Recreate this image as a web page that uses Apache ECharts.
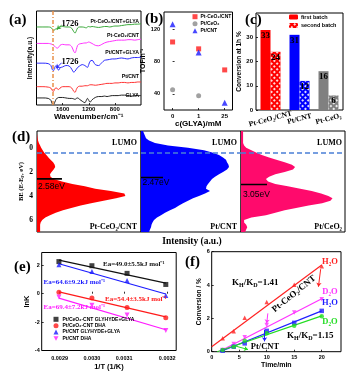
<!DOCTYPE html>
<html><head><meta charset="utf-8">
<script src="https://cdn.jsdelivr.net/npm/echarts@6/dist/echarts.min.js"></script>
<style>html,body{margin:0;padding:0;background:#fff}#c{width:349px;height:372px}</style>
</head><body><div id="c"></div>
<script>
// ---------- (a) FTIR ----------
const ftirWavenumber = [2000,1900,1820,1780,1760,1740,1720,1700,1680,1660,1640,1600,1550,1500,1460,1430,1410,1390,1370,1340,1300,1260,1240,1220,1200,1180,1150,1100,1050,1000,960,920,880,840,800,750,700,650,600,550,500,450,400];
const ftirPtCeO2CNTGLYA = [83,83,83,82.5,81,79,80,81.5,80.5,82,83,83.5,83,83,81.5,78,76.5,79,82,83,83,82.5,82,83,83.5,83,83.5,83,82.5,83,83.5,83.5,83,83.5,84,84,84.5,85,85.5,85.5,86,86,86.5];
const ftirPtCeO2CNT = [65.5,65.5,65.5,65,64.5,63.5,62.5,61,60.5,61.5,63.5,64.5,64,64,62,57,55.5,59,63.5,65,65.5,66,66,66.5,67,66.5,65.5,63.5,63,64.5,66,67,67.5,68,68.5,69,69,69,69.5,69.5,69,69.5,70];
const ftirPtCNTGLYA = [44.5,44.5,44,42,38,36.5,40,42,39,37,39.5,40.5,42,41.5,38,35,36,38,40,41.5,43,42,41,40,43,46.5,47.5,43,42,45,47.5,48,48.5,49,49,49.5,50,49.5,49,50,50.5,50.5,51];
const ftirPtCNT = [19.5,19.5,19,18,15.5,14.5,17,18.5,17,16.5,18,19.5,19.5,19.5,18,14.5,13.5,16.5,19,20,20,20.5,20.5,20.5,21,21.5,21.5,21,21.5,22,22.5,23,23,23,23.5,23.5,24,24,23.5,24,24,24.5,24.5];
const ftirGLYA = [7.5,7.5,7,5,1.5,0.5,3,6,7.5,8,8,8,7.5,7,7,6.5,6,7,7.5,6,4,2.5,4.5,7,5,3,5.5,8,9,9,9.5,9,9.5,10,10,10,10.5,10.5,10,9.5,10,10,10];
const ftirMarkWavenumber = 1750;

// ---------- (b) TOF ----------
const tofConc = [0, 1, 2];
const tofConcLabels = ['0', '1', '25'];
const tofPtCeO2CNT = [104, 95.5, 69.5];
const tofPtCeO2 = [45, 37.5];
const tofPtCNT = [126, 91, 29];

// ---------- (c) conversion ----------
const catalystNames = ['Pt-CeO₂/CNT', 'Pt/CNT', 'Pt-CeO₂'];
const firstBatch = [33, 31, 16];
const secondBatch = [24, 12, 6];

// ---------- (d) DOS ----------
const energyGrid = [-1.4,-1.2,-1.0,-0.8,-0.6,-0.4,-0.2,0,0.2,0.4,0.6,0.8,1.0,1.2,1.4,1.6,1.8,2.0,2.2,2.4,2.6,2.8,3.0,3.2,3.4,3.6,3.8,4.0,4.2,4.4,4.6,4.8,5.0,5.2,5.4,5.6,5.8,6.0,6.2,6.4,6.6,6.8,7.0];
const dosPtCeO2CNT = [0,0,0.003,0.006,0.01,0.018,0.03,0.04,0.055,0.07,0.09,0.11,0.13,0.155,0.17,0.175,0.16,0.14,0.125,0.13,0.16,0.24,0.34,0.46,0.56,0.71,0.84,0.85,0.76,0.64,0.52,0.42,0.33,0.25,0.18,0.125,0.08,0.05,0.035,0.03,0.03,0.03,0.03];
const dosPtCNT = [0.02,0.03,0.04,0.05,0.08,0.14,0.27,0.47,0.63,0.72,0.78,0.82,0.85,0.86,0.875,0.88,0.86,0.82,0.78,0.74,0.71,0.69,0.67,0.655,0.65,0.69,0.64,0.58,0.52,0.47,0.42,0.38,0.34,0.29,0.24,0.2,0.16,0.13,0.115,0.105,0.1,0.09,0.08];
const dosPtCeO2 = [0.02,0.02,0.02,0.02,0.02,0.02,0.03,0.05,0.1,0.15,0.2,0.27,0.34,0.42,0.49,0.52,0.5,0.42,0.33,0.27,0.24,0.26,0.33,0.45,0.57,0.68,0.77,0.84,0.88,0.86,0.78,0.65,0.53,0.42,0.33,0.24,0.1,0.03,0.03,0.05,0.06,0.05,0.04];
const gapLevels = [2.58, 2.47, 3.05];
const gapLabels = ['2.58eV', '2.47eV', '3.05eV'];
const lumoLevel = 0.42;

// ---------- (e) Arrhenius ----------
const invT = [0.002898, 0.00299, 0.003088, 0.003196];
const invTTicks = [0.0029, 0.00299, 0.00308, 0.0032];
const lnKCeO2Gly = [2.26, 1.97, 1.43, 0.65];
const lnKCeO2Dha = [0.11, -0.3, -0.97, -1.69];
const lnKCntGly = [2.03, 1.57, 0.92, -0.12];
const lnKCntDha = [-0.24, -0.81, -1.5, -2.6];
const fitCeO2Gly = [2.36, 0.74];
const fitCeO2Dha = [0.13, -1.63];
const fitCntGly = [2.11, -0.02];
const fitCntDha = [-0.31, -2.54];

// ---------- (f) KIE ----------
const timeMin = [2, 4, 6, 10, 15, 20];
const convCeO2H2O = [0.8, 1.23, 2.03, 2.98, 4.02, 5.13];
const convCeO2D2O = [0.1, 0.46, 0.86, 1.6, 2.35, 3.14];
const convCntH2O = [0.06, 0.3, 0.5, 1.25, 1.73, 2.45];
const convCntD2O = [0.1, 0.3, 0.66, 1.1, 1.55, 2.13];
const fitCeO2H2O = [[0, 0.3], [20, 5.2]];
const fitCeO2D2O = [[1.3, 0], [20, 3.18]];
const fitCntH2O = [[1.5, 0], [20, 2.45]];
const fitCntD2O = [[1.0, 0], [20, 2.15]];

const SANS = '"Liberation Sans", Arial, sans-serif';
const SERIF = '"Liberation Serif", "Times New Roman", serif';
const NARROW = '"Liberation Sans Narrow", "Liberation Sans", Arial, sans-serif';

const chart = echarts.init(document.getElementById('c'), null, {renderer: 'canvas'});

const box = {show: true, borderColor: '#000', borderWidth: 1, backgroundColor: 'transparent', containLabel: false, outerBoundsMode: 'none'};
const grids = [
  {left: 36.5, top: 11, width: 104.5, height: 94},
  {left: 164, top: 12, width: 68.5, height: 98},
  {left: 256, top: 13, width: 87, height: 97},
  {left: 37, top: 131, width: 104, height: 101},
  {left: 141, top: 131, width: 100, height: 101},
  {left: 241, top: 131, width: 104, height: 101},
  {left: 41.7, top: 252.5, width: 134.5, height: 98},
  {left: 211.7, top: 251.7, width: 129.3, height: 100}
].map(g => Object.assign({}, box, g));

const tick = {show: true, inside: true, length: 2, lineStyle: {color: '#000', width: 0.8}};
const lbl = (size, extra) => Object.assign({fontSize: size, fontWeight: 'bold', fontFamily: SANS, color: '#000'}, extra || {});
const nameStyle = (size, fam) => ({fontSize: size, fontWeight: 'bold', fontFamily: fam || SANS, color: '#000'});
const noLine = {show: false};
const noSplit = {show: false};

const xAxis = [
  {gridIndex: 0, type: 'value', min: 400, max: 2000, inverse: true, interval: 400,
   axisLine: noLine, splitLine: noSplit, axisTick: tick,
   axisLabel: lbl(6, {showMinLabel: false, showMaxLabel: false, margin: 1, formatter: v => String(v)}),
   name: 'Wavenumber/cm⁻¹', nameLocation: 'middle', nameGap: 7, nameTextStyle: nameStyle(8)},
  {gridIndex: 1, type: 'value', min: -0.33, max: 2.3,
   axisLine: noLine, splitLine: noSplit,
   axisTick: Object.assign({}, tick, {customValues: tofConc}),
   axisLabel: lbl(6, {customValues: tofConc, formatter: v => tofConcLabels[Math.round(v)], margin: 3}),
   name: 'c(GLYA)/mM', nameLocation: 'middle', nameGap: 9, nameTextStyle: nameStyle(8)},
  {gridIndex: 2, type: 'category', data: catalystNames,
   axisLine: noLine, splitLine: noSplit, axisTick: {show: false},
   axisLabel: {rotate: 15, align: 'center', margin: 9, fontSize: 7.5, fontWeight: 'bold', fontFamily: SERIF, color: '#000', interval: 0}},
  {gridIndex: 3, type: 'value', min: 0, max: 1, show: false},
  {gridIndex: 4, type: 'value', min: 0, max: 1, show: false},
  {gridIndex: 5, type: 'value', min: 0, max: 1, show: false},
  {gridIndex: 6, type: 'value', min: 0.00285, max: 0.003225,
   axisLine: noLine, splitLine: noSplit,
   axisTick: Object.assign({}, tick, {customValues: invTTicks}),
   axisLabel: lbl(5.5, {customValues: invTTicks, formatter: v => v.toFixed(4), margin: 5}),
   name: '1/T (1/K)', nameLocation: 'middle', nameGap: 12, nameTextStyle: nameStyle(7.5)},
  {gridIndex: 7, type: 'value', min: 0, max: 23.5, interval: 5,
   axisLine: noLine, splitLine: noSplit, axisTick: tick,
   axisLabel: lbl(5.5, {showMaxLabel: false, margin: 3}),
   name: 'Time/min', nameLocation: 'middle', nameGap: 10, nameTextStyle: nameStyle(7)}
];

const yAxis = [
  {gridIndex: 0, type: 'value', min: 0, max: 100, axisLine: noLine, splitLine: noSplit,
   axisTick: {show: false}, axisLabel: {show: false},
   name: 'Intensity(a.u.)', nameLocation: 'middle', nameGap: 3, nameTextStyle: nameStyle(6.5)},
  {gridIndex: 1, type: 'value', min: 20, max: 141, axisLine: noLine, splitLine: noSplit,
   axisTick: Object.assign({}, tick, {customValues: [40, 80, 120]}),
   axisLabel: lbl(5.5, {customValues: [40, 80, 120], margin: 4}),
   name: 'TOF/h⁻¹', nameLocation: 'middle', nameGap: 14, nameTextStyle: nameStyle(7)},
  {gridIndex: 2, type: 'value', min: 0, max: 40, interval: 10, axisLine: noLine, splitLine: noSplit,
   axisTick: tick, axisLabel: lbl(6, {showMaxLabel: false, margin: 3}),
   name: 'Conversion at 1h %', nameLocation: 'middle', nameGap: 12, nameTextStyle: nameStyle(6.5)},
  {gridIndex: 3, type: 'value', min: -1.4, max: 7, inverse: true, axisLine: noLine, splitLine: noSplit,
   axisTick: Object.assign({}, tick, {customValues: [0, 2, 4, 6]}),
   axisLabel: {customValues: [0, 2, 4, 6], fontSize: 7.5, fontWeight: 'bold', fontFamily: SERIF, color: '#000', margin: 4},
   name: 'BE (E-E{s|F}, eV)', nameLocation: 'middle', nameGap: 11,
   nameTextStyle: {fontSize: 6.5, fontFamily: SERIF, fontWeight: 'bold', color: '#000', rich: {s: {fontSize: 4.5, fontFamily: SERIF, fontWeight: 'bold', padding: [3, 0, 0, 0]}}}},
  {gridIndex: 4, type: 'value', min: -1.4, max: 7, inverse: true, show: false},
  {gridIndex: 5, type: 'value', min: -1.4, max: 7, inverse: true, show: false},
  {gridIndex: 6, type: 'value', min: -4, max: 2.9, interval: 2, axisLine: noLine, splitLine: noSplit,
   axisTick: tick, axisLabel: lbl(5.5, {showMaxLabel: false, margin: 2}),
   name: 'lnK', nameLocation: 'middle', nameGap: 8, nameTextStyle: nameStyle(7.5)},
  {gridIndex: 7, type: 'value', min: 0, max: 6, interval: 2, axisLine: noLine, splitLine: noSplit,
   axisTick: tick, axisLabel: lbl(5.5, {margin: 2}),
   name: 'Conversion / %', nameLocation: 'middle', nameGap: 7, nameTextStyle: nameStyle(6.5)}
];

const series = [];
const zip = (xs, ys) => ys.map((y, i) => [xs[i], y]);
const arrowML = (pairs, color) => ({silent: true, symbol: ['none', 'arrow'], symbolSize: 4, label: {show: false},
  lineStyle: {color: color, width: 1, type: 'solid'}, data: pairs.map(p => [{coord: p[0]}, {coord: p[1]}])});

// (a)
const ftirSets = [
  ['a-green', ftirPtCeO2CNTGLYA, '#3aa83a'],
  ['a-mag', ftirPtCeO2CNT, '#ff33ff'],
  ['a-blue', ftirPtCNTGLYA, '#2b2bff'],
  ['a-red', ftirPtCNT, '#ff3333'],
  ['a-black', ftirGLYA, '#222222']
];
ftirSets.forEach(s => {
  series.push({name: s[0], type: 'line', xAxisIndex: 0, yAxisIndex: 0, data: zip(ftirWavenumber, s[1]),
    showSymbol: false, smooth: 0.35, lineStyle: {color: s[2], width: 1}, itemStyle: {color: s[2]}, z: 3});
});
series[4].markLine = {silent: true, symbol: 'none', label: {show: false},
  lineStyle: {color: '#e8904a', type: [4, 2, 1, 2], width: 1.5}, data: [{xAxis: ftirMarkWavenumber}]};
series[0].markLine = arrowML([[[1614, 85], [1690, 80.5]]], '#3aa83a');
series[2].markLine = arrowML([[[1614, 45], [1700, 39]]], '#2b2bff');

// (b)
series.push({name: 'Pt-CeO₂/CNT', type: 'scatter', xAxisIndex: 1, yAxisIndex: 1, data: zip(tofConc, tofPtCeO2CNT),
  symbol: 'rect', symbolSize: 5, itemStyle: {color: '#ff1a1a'}});
series.push({name: 'Pt/CeO₂', type: 'scatter', xAxisIndex: 1, yAxisIndex: 1, data: zip(tofConc, tofPtCeO2),
  symbol: 'circle', symbolSize: 5, itemStyle: {color: '#8a8a8a'}});
series.push({name: 'Pt/CNT', type: 'scatter', xAxisIndex: 1, yAxisIndex: 1, data: zip(tofConc, tofPtCNT),
  symbol: 'triangle', symbolSize: 6, itemStyle: {color: '#1a1aff'}});

// (c)
const batchColors = ['#ff0000', '#0000ff', '#808080'];
const hatch = {symbol: 'rect', symbolSize: 1, dashArrayX: [1.5, 1.5], dashArrayY: [1.5, 1.5], rotation: Math.PI / 4, color: 'rgba(255,255,255,0.85)'};
const barLabel = {show: true, position: 'insideTop', distance: 1, fontFamily: SERIF, fontWeight: 'bold', fontSize: 9, color: '#000'};
series.push({name: 'first batch', type: 'bar', xAxisIndex: 2, yAxisIndex: 2, barWidth: 10, barGap: '0%',
  itemStyle: {color: '#ff0000'}, label: barLabel,
  data: firstBatch.map((v, i) => ({value: v, itemStyle: {color: batchColors[i]}}))});
series.push({name: 'second batch', type: 'bar', xAxisIndex: 2, yAxisIndex: 2, barWidth: 10, barGap: '0%',
  itemStyle: {color: '#ff0000', decal: hatch}, label: barLabel,
  data: secondBatch.map((v, i) => ({value: v, itemStyle: {color: batchColors[i], decal: hatch}}))});

// (d)
function dosRender(vals, color) {
  return function (params, api) {
    if (params.dataIndex !== 0) return null;
    const pts = [api.coord([0, energyGrid[0]])];
    for (let i = 0; i < energyGrid.length; i++) pts.push(api.coord([vals[i], energyGrid[i]]));
    pts.push(api.coord([0, energyGrid[energyGrid.length - 1]]));
    return {type: 'polygon', shape: {points: pts}, style: {fill: color, stroke: null}};
  };
}
const dosSets = [[dosPtCeO2CNT, '#ff0000'], [dosPtCNT, '#0000ff'], [dosPtCeO2, '#ff0a6c']];
const levelLen = [0.24, 0.22, 0.25];
dosSets.forEach((s, k) => {
  series.push({name: 'dos' + k, type: 'custom', xAxisIndex: 3 + k, yAxisIndex: 3 + k, clip: true,
    renderItem: dosRender(s[0], s[1]), data: zip(s[0], energyGrid), z: 2});
  series.push({name: 'gap' + k, type: 'line', xAxisIndex: 3 + k, yAxisIndex: 3 + k, showSymbol: false,
    data: [[0, gapLevels[k]], [levelLen[k], gapLevels[k]]], lineStyle: {color: '#000', width: 1.6}, z: 4});
  series.push({name: 'lumo' + k, type: 'line', xAxisIndex: 3 + k, yAxisIndex: 3 + k, showSymbol: false,
    data: [[0, lumoLevel], [1, lumoLevel]], lineStyle: {color: '#4a7fd6', width: 1.5, type: [5, 3]}, z: 5});
});

// (e)
const invTri = 'path://M0,0L10,0L5,9Z';
const eSets = [
  ['Pt/CeO₂-CNT GLYHYDE+GLYA', lnKCeO2Gly, fitCeO2Gly, '#111111', 'rect'],
  ['Pt/CeO₂-CNT DHA', lnKCeO2Dha, fitCeO2Dha, '#ff1a1a', 'circle'],
  ['Pt/CNT GLYHYDE+GLYA', lnKCntGly, fitCntGly, '#1a1aff', 'triangle'],
  ['Pt/CNT DHA', lnKCntDha, fitCntDha, '#ff1aff', invTri]
];
eSets.forEach((s, k) => {
  series.push({name: s[0], type: 'scatter', xAxisIndex: 6, yAxisIndex: 6, data: zip(invT, s[1]),
    symbol: s[4], symbolSize: 5, itemStyle: {color: s[3]}, z: 4});
  series.push({name: 'efit' + k, type: 'line', xAxisIndex: 6, yAxisIndex: 6, showSymbol: false,
    data: [[invT[0], s[2][0]], [invT[3], s[2][1]]], lineStyle: {color: s[3], width: 1.2}, z: 3});
});

// (f)
const fSets = [
  ['fRH', convCeO2H2O, fitCeO2H2O, '#ff2222', 'triangle'],
  ['fMD', convCeO2D2O, fitCeO2D2O, '#ff33ff', invTri],
  ['fBH', convCntH2O, fitCntH2O, '#1f1fff', 'rect'],
  ['fGD', convCntD2O, fitCntD2O, '#22dd22', 'circle']
];
fSets.forEach((s, k) => {
  series.push({name: s[0], type: 'scatter', xAxisIndex: 7, yAxisIndex: 7, data: zip(timeMin, s[1]),
    symbol: s[4], symbolSize: 4.5, itemStyle: {color: s[3]}, z: 4});
  series.push({name: s[0] + 'fit', type: 'line', xAxisIndex: 7, yAxisIndex: 7, showSymbol: false,
    data: s[2], lineStyle: {color: s[3], width: 1.2}, z: 3});
});
const fFit = n => series.find(s => s.name === n);
fFit('fRHfit').markLine = arrowML([[[19.8, 4.95], [19.4, 3.9]]], '#ff2222');
fFit('fMDfit').markLine = arrowML([[[10.2, 2.3], [10.0, 1.7]]], '#ff33ff');
fFit('fBHfit').markLine = arrowML([[[9.6, 1.3], [9.6, 0.62]]], '#1f1fff');
fFit('fGDfit').markLine = arrowML([[[4.1, 0.36], [6.6, 0.13]]], '#22dd22');

// ---------- text annotations ----------
const T = (x, y, text, font, extra) => ({type: 'text', x: x, y: y, z: 100, silent: true,
  style: Object.assign({text: text, font: font, fill: '#000', align: 'left', verticalAlign: 'middle'}, extra || {})});
const bSerif = s => 'bold ' + s + 'px ' + SERIF;
const bSans = s => 'bold ' + s + 'px ' + SANS;
const subRich = size => ({s: {font: 'bold ' + size + 'px ' + SERIF, padding: [4, 0, 0, 0]}});

const graphic = [
  T(9, 20, '(a)', bSerif(15)), T(145, 19, '(b)', bSerif(15)), T(245, 20, '(c)', bSerif(15)),
  T(12, 137, '(d)', bSerif(15)), T(14, 267, '(e)', bSerif(15)), T(185, 262, '(f)', bSerif(15)),
  // (a)
  T(139, 21.5, 'Pt-CeO₂/CNT+GLYA', bSans(5.2), {align: 'right'}),
  T(139, 36, 'Pt-CeO₂/CNT', bSans(5.2), {align: 'right'}),
  T(139, 53, 'Pt/CNT+GLYA', bSans(5.2), {align: 'right'}),
  T(139, 77, 'Pt/CNT', bSans(5.2), {align: 'right'}),
  T(139, 95.5, 'GLYA', bSans(5.2), {align: 'right'}),
  T(61.5, 23.5, '1726', bSerif(8.5)),
  T(61.5, 62, '1726', bSerif(8.5)),
  // (d)
  T(137, 143, 'LUMO', bSerif(8), {align: 'right'}),
  T(237, 143, 'LUMO', bSerif(8), {align: 'right'}),
  T(342, 143, 'LUMO', bSerif(8), {align: 'right'}),
  T(38, 186.5, gapLabels[0], '8.5px ' + NARROW),
  T(142.5, 183, gapLabels[1], '8.5px ' + NARROW),
  T(243, 195, gapLabels[2], '8.5px ' + NARROW),
  T(137, 227, 'Pt-CeO₂/CNT', bSerif(8), {align: 'right'}),
  T(237, 226.5, 'Pt/CNT', bSerif(8), {align: 'right'}),
  T(342, 227, 'Pt/CeO₂', bSerif(8), {align: 'right'}),
  T(192, 242, 'Intensity (a.u.)', bSerif(9.5), {align: 'center'}),
  // (e)
  T(103, 264, 'Ea=49.0±5.5kJ mol⁻¹', bSerif(7), {fill: '#111'}),
  T(43.5, 282.5, 'Ea=64.6±9.2kJ mol⁻¹', bSerif(7), {fill: '#1a1aff'}),
  T(105, 299.5, 'Ea=54.4±3.5kJ mol⁻¹', bSerif(7), {fill: '#ff1a1a'}),
  T(43.5, 307.5, 'Ea=69.4±7.2kJ mol⁻¹', bSerif(7), {fill: '#ff1aff'}),
  // (f)
  T(232, 283, 'K{s|H}/K{s|D}=1.41', bSerif(9), {rich: subRich(6)}),
  T(287, 336, 'K{s|H}/K{s|D}=1.15', bSerif(9), {rich: subRich(6)}),
  {type: 'text', x: 294, y: 294, rotation: 0.68, z: 100, silent: true,
   style: {text: 'Pt-CeO₂/CNT', font: bSerif(9), fill: '#000', align: 'center', verticalAlign: 'middle'}},
  T(330, 262, 'H₂O', bSerif(8.5), {align: 'center', fill: '#ff2222'}),
  T(330, 292, 'D₂O', bSerif(8.5), {align: 'center', fill: '#ff33ff'}),
  T(330, 303, 'H₂O', bSerif(8.5), {align: 'center', fill: '#1f1fff'}),
  T(330, 322, 'D₂O', bSerif(8.5), {align: 'center', fill: '#22dd22'}),
  T(265, 346.5, 'Pt/CNT', bSerif(8.5), {align: 'center'})
];

const legendBase = {orient: 'vertical', selectedMode: false, padding: 0, itemGap: 2};
const legend = [
  Object.assign({}, legendBase, {left: 192.5, top: 14.2, itemWidth: 5, itemHeight: 5,
    textStyle: {fontSize: 5, fontWeight: 'bold', fontFamily: SANS, color: '#000', padding: [0, 0, 0, -2]},
    data: [{name: 'Pt-CeO₂/CNT', icon: 'rect'}, {name: 'Pt/CeO₂', icon: 'circle'}, {name: 'Pt/CNT', icon: 'triangle'}]}),
  Object.assign({}, legendBase, {left: 289, top: 14, itemWidth: 9, itemHeight: 5, itemGap: 2.5,
    textStyle: {fontSize: 5.5, fontWeight: 'bold', fontFamily: SANS, color: '#000', padding: [0, 0, 0, -2]},
    data: ['first batch', 'second batch']}),
  Object.assign({}, legendBase, {left: 53.5, top: 316.8, itemWidth: 5, itemHeight: 5, itemGap: 1.4,
    textStyle: {fontSize: 5, fontWeight: 'bold', fontFamily: SANS, color: '#000', padding: [0, 0, 0, -1]},
    data: eSets.map(s => s[0])})
];

chart.setOption({
  animation: false,
  backgroundColor: '#fff',
  grid: grids, xAxis: xAxis, yAxis: yAxis, series: series, legend: legend, graphic: graphic
});
</script></body></html>
